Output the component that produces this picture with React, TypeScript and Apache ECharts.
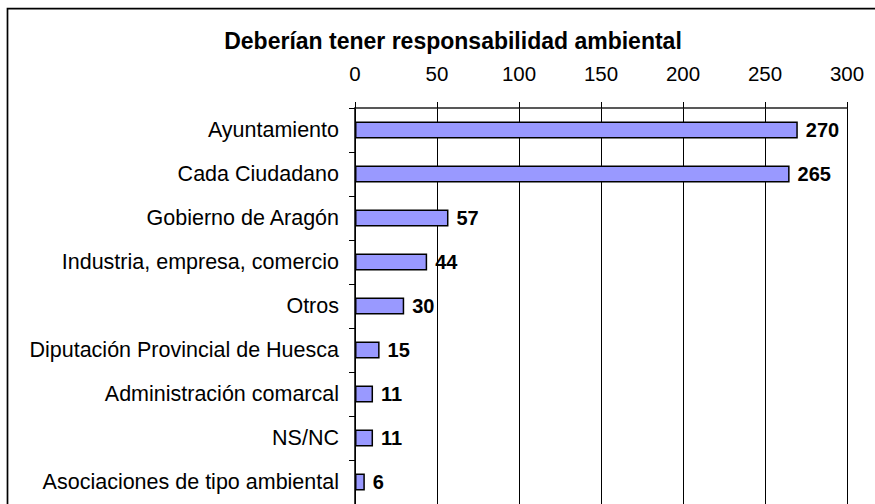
import React, { useEffect, useRef } from "react";
import * as echarts from "echarts";

const title = "Deberían tener responsabilidad ambiental";
const categories = [
  "Ayuntamiento",
  "Cada Ciudadano",
  "Gobierno de Aragón",
  "Industria, empresa, comercio",
  "Otros",
  "Diputación Provincial de Huesca",
  "Administración comarcal",
  "NS/NC",
  "Asociaciones de tipo ambiental",
];
const values = [270, 265, 57, 44, 30, 15, 11, 11, 6];
const axisMin = 0;
const axisMax = 300;
const axisStep = 50;

const FONT = '"Liberation Sans", Arial, sans-serif';

export default function App() {
  const ref = useRef<HTMLDivElement>(null);
  useEffect(() => {
    if (!ref.current) return;
    const chart = echarts.init(ref.current, undefined, { renderer: "svg" });
    chart.setOption({
      animation: false,
      backgroundColor: "#ffffff",
      textStyle: { fontFamily: FONT },
      title: {
        text: title,
        left: 448,
        top: 24,
        textAlign: "center",
        textStyle: {
          fontFamily: FONT,
          fontSize: 23,
          fontWeight: "bold",
          color: "#000",
        },
      },
      graphic: [
        {
          type: "rect",
          shape: { x: 7.5, y: 8.7, width: 2000, height: 2000 },
          style: { fill: "none", stroke: "#000", lineWidth: 1.7 },
          silent: true,
          z: 100,
        },
      ],
      grid: { left: 355, top: 108, right: 28, bottom: 0, containLabel: false },
      xAxis: {
        type: "value",
        position: "top",
        min: axisMin,
        max: axisMax,
        interval: axisStep,
        axisLine: { show: true, lineStyle: { color: "#222", width: 1.5 } },
        axisTick: { show: true, inside: false, length: 6, lineStyle: { color: "#000" } },
        axisLabel: {
          margin: 24,
          fontFamily: FONT,
          fontSize: 20.5,
          color: "#000",
        },
        splitLine: { show: true, lineStyle: { color: "#000", width: 1 } },
      },
      yAxis: {
        type: "category",
        data: categories,
        inverse: true,
        axisLine: { show: true, lineStyle: { color: "#000", width: 1.5 } },
        axisTick: { show: true, inside: false, length: 6, lineStyle: { color: "#000" } },
        axisLabel: {
          margin: 16,
          fontFamily: FONT,
          fontSize: 21.5,
          color: "#000",
        },
        splitLine: { show: false },
      },
      series: [
        {
          type: "bar",
          data: values,
          barWidth: 17,
          itemStyle: { color: "#9999FF", borderColor: "#000", borderWidth: 1.5 },
          label: {
            show: true,
            position: "right",
            distance: 8,
            fontFamily: FONT,
            fontSize: 20,
            fontWeight: "bold",
            color: "#000",
          },
        },
      ],
    });
    return () => chart.dispose();
  }, []);
  return (
    <div
      ref={ref}
      style={{ position: "absolute", left: 0, top: 0, width: 875, height: 504 }}
    />
  );
}
